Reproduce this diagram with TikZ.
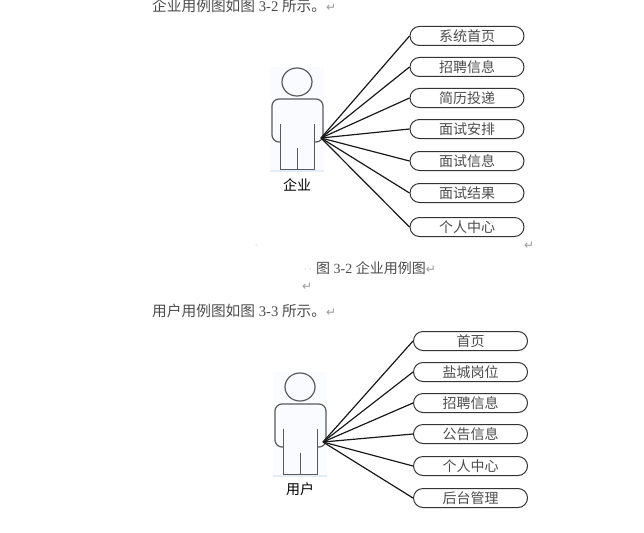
\documentclass[tikz,border=0pt]{standalone}
\usepackage{fontspec}
\setmainfont{Liberation Serif}
\newfontfamily\cjk{Noto Sans CJK SC}
\newfontfamily\sym{DejaVu Sans}
\definecolor{bodygray}{HTML}{5A5A5A}
\definecolor{halo}{HTML}{FAFBFE}
\definecolor{halob}{HTML}{E3ECF9}
\definecolor{markgray}{HTML}{9A9A9A}
\newcommand{\ret}{{\sym\fontsize{12}{12}\selectfont\textcolor{markgray}{↵}}}
\tikzset{
usecase/.style={draw=black!80,line width=1pt,rounded corners=9.5pt,minimum width=114pt,minimum height=19pt,inner sep=0pt,font=\cjk\fontsize{14}{15}\selectfont,text=black!70},
link/.style={black!90,line width=1.2pt},
line/.style={inner sep=0pt,anchor=west,font=\fontsize{14}{15}\selectfont,text=black!70},
actorname/.style={inner sep=0pt,font=\cjk\fontsize{14}{15}\selectfont,text=black},
speck/.style={fill=markgray,inner sep=0pt,minimum size=1pt,circle}
}
\begin{document}
\begin{tikzpicture}[x=1pt,y=-1pt]
\useasboundingbox (0,0) rectangle (644,532);
\def\actor{
\fill[halob] (270,169) rectangle (324,172);
\fill[halo] (270,67) rectangle (324,170);
\draw[bodygray,line width=1.2pt] (297,82) ellipse (15 and 14);
\draw[bodygray,line width=1.2pt,rounded corners=7pt] (280,142)--(272,142)--(272,99)--(323,99)--(323,142)--(314,142);
\draw[bodygray,line width=1pt] (280,124)--(280,169)--(314,169)--(314,124) (297,148)--(297,169);
}
% first figure
\actor
\coordinate (qyhub) at (321,138);
\node[actorname] (qy) at (297,184.5) {企业};
\foreach \y/\t [count=\i] in {36/系统首页,67/招聘信息,98/简历投递,129/面试安排,161/面试信息,193/面试结果,227/个人中心}{
\node[usecase] (qy\i) at (467,\y) {\t};
\draw[link] (qyhub)--(qy\i.west);
}
% second figure
\begin{scope}[shift={(3,305)}]
\actor
\end{scope}
\coordinate (yhhub) at (323,442);
\node[actorname] (yh) at (300,489.5) {用户};
\foreach \y/\t [count=\i] in {341/首页,372/盐城岗位,403/招聘信息,434/公告信息,466/个人中心,498/后台管理}{
\node[usecase] (yh\i) at (470.5,\y) {\t};
\draw[link] (yhhub)--(yh\i.west);
}
% text lines
\node[line,font=\fontsize{14.7}{15}\selectfont] (intro) at (152,6) {{\cjk 企业用例图如图} 3-2 {\cjk 所示。}\ret};
\node[line] (cap) at (316,268) {{\cjk 图} 3-2 {\cjk 企业用例图}\ret};
\node[line,font=\fontsize{14.7}{15}\selectfont] (introb) at (152,311) {{\cjk 用户用例图如图} 3-3 {\cjk 所示。}\ret};
\node[line] (reta) at (524,246) {\ret};
\node[line] (retb) at (302,287) {\ret};
\node[speck] (sa) at (256,245) {};
\node[speck] (sb) at (305,269) {};
\node[speck] (sc) at (310,269) {};
\end{tikzpicture}
\end{document}
